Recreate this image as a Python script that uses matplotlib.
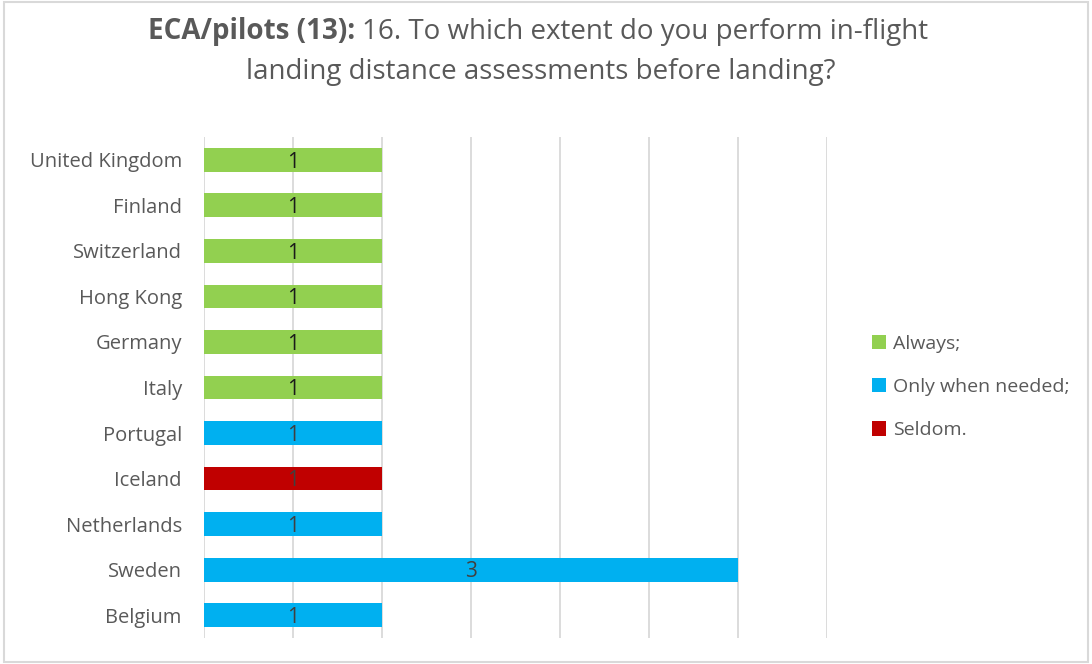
import matplotlib.pyplot as plt
import numpy as np
from matplotlib.patches import Rectangle

plt.rcParams['font.family'] = ['Open Sans', 'DejaVu Sans']

# Data (bottom to top, as drawn)
countries = ['Belgium', 'Sweden', 'Netherlands', 'Iceland', 'Portugal', 'Italy',
             'Germany', 'Hong Kong', 'Switzerland', 'Finland', 'United Kingdom']
always = [0, 0, 0, 0, 0, 1, 1, 1, 1, 1, 1]
only_when_needed = [1, 3, 1, 0, 1, 0, 0, 0, 0, 0, 0]
seldom = [0, 0, 0, 1, 0, 0, 0, 0, 0, 0, 0]

series_names = ['Always;', 'Only when needed;', 'Seldom.']
series_values = [always, only_when_needed, seldom]
series_colors = ['#92D050', '#00B0F0', '#C00000']
label_colors = ['#1a1a1a', '#404040', '#404040']

text_grey = '#595959'

fig = plt.figure(figsize=(10.92, 6.64), dpi=100)
ax = fig.add_axes([204 / 1092, 1 - 638 / 664, 623 / 1092, 501 / 664])

y = np.arange(len(countries))
left = np.zeros(len(countries))
for name, vals, col, lcol in zip(series_names, series_values, series_colors, label_colors):
    vals = np.array(vals, dtype=float)
    bars = ax.barh(y, vals, left=left, height=0.52, color=col, label=name, zorder=3)
    for b, v in zip(bars, vals):
        if v > 0:
            ax.text(b.get_x() + b.get_width() / 2, b.get_y() + b.get_height() / 2 - 0.05,
                    '%d' % v, ha='center', va='center', fontsize=15,
                    color=lcol, zorder=4)
    left += vals

ax.set_xlim(0, 3.5)
ax.set_ylim(-0.5, len(countries) - 0.5)
ax.set_xticks(np.arange(0, 3.51, 0.5))
ax.set_xticklabels([])
ax.tick_params(axis='x', length=0)
ax.grid(axis='x', color='#D9D9D9', linewidth=1.3, zorder=0)
ax.set_yticks(y)
ax.set_yticklabels(countries, fontsize=14.5, color=text_grey)
ax.tick_params(axis='y', length=0, pad=16)
for s in ax.spines.values():
    s.set_visible(False)

# Legend
leg = fig.legend(loc='center left', bbox_to_anchor=(854 / 1092, 1 - 387 / 664),
                 frameon=False, fontsize=14, handlelength=0.75, handleheight=0.75,
                 handletextpad=0.35, labelspacing=1.3, labelcolor=text_grey)

# Title with bold prefix
fig.canvas.draw()
r = fig.canvas.get_renderer()
t1 = fig.text(0, 1 - 32 / 664, 'ECA/pilots (13):', fontsize=20, fontweight='bold',
              color=text_grey, va='center', ha='left')
t2 = fig.text(0, 1 - 32 / 664, '16. To which extent do you perform in-flight',
              fontsize=20, color=text_grey, va='center', ha='left')
w1 = t1.get_window_extent(r).width
w2 = t2.get_window_extent(r).width
gap = 7
x0 = 538 - (w1 + gap + w2) / 2
t1.set_x(x0 / 1092)
t2.set_x((x0 + w1 + gap) / 1092)
fig.text(541 / 1092, 1 - 72 / 664, 'landing distance assessments before landing?',
         fontsize=20, color=text_grey, va='center', ha='center')

# Outer border
fig.patches.append(Rectangle((0.004, 0.003), 0.992, 0.994, transform=fig.transFigure,
                             fill=False, edgecolor='#D9D9D9', linewidth=1.5))

fig.savefig('out.png', dpi=100)
